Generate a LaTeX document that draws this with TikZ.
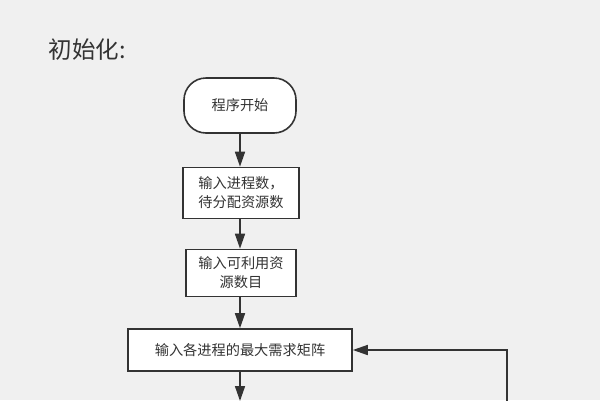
\documentclass[tikz,border=0pt]{standalone}
\usepackage{fontspec}
\setmainfont{Noto Sans CJK SC}
\usetikzlibrary{arrows.meta}
\definecolor{bgc}{HTML}{F0F0F0}
\definecolor{ink}{HTML}{333333}
\tikzset{
  box/.style={draw=ink, line width=1.6pt, fill=white, text=ink, font=\fontsize{14.2pt}{19pt}\selectfont, align=center, inner sep=0pt},
  term/.style={box, rounded corners=22pt},
  conn/.style={draw=ink, line width=1.6pt, -{Triangle[length=15pt,width=10pt]}}
}
\begin{document}
\begin{tikzpicture}[x=1pt,y=-1pt]
\fill[bgc] (0,0) rectangle (600,400);
\useasboundingbox (0,0) rectangle (600,400);
\node[anchor=west, text=ink, font=\fontsize{23.5pt}{26pt}\selectfont] (title) at (45,50) {初始化:};
\node[term, minimum width=112pt, minimum height=55pt] (start) at (240,105.5) {程序开始};
\node[box, minimum width=116pt, minimum height=51pt] (b2) at (241,193) {输入进程数，\\待分配资源数};
\node[box, minimum width=110pt, minimum height=47pt] (b3) at (241,273) {输入可利用资\\源数目};
\node[box, minimum width=224pt, minimum height=42pt] (b4) at (240,350) {输入各进程的最大需求矩阵};
\coordinate (down) at (240,401);
\coordinate (loop) at (507,401);
\draw[conn] (start.south) -- (start.south |- b2.north);
\draw[conn] (b2.south -| start.south) -- (start.south |- b3.north);
\draw[conn] (b3.south -| start.south) -- (start.south |- b4.north);
\draw[conn] (b4.south -| start.south) -- (down);
\draw[conn] (loop) -- (loop |- b4.east) -- (b4.east);
\end{tikzpicture}
\end{document}
